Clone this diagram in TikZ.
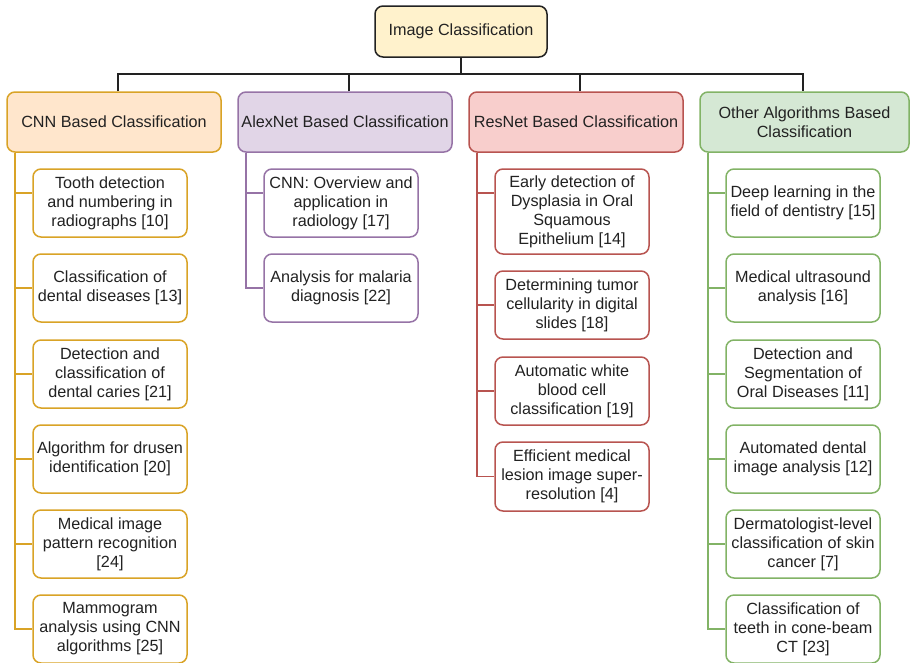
\documentclass[tikz,border=0pt]{standalone}
\usepackage{fontspec}
\setmainfont{Liberation Sans}
\definecolor{txt}{HTML}{222222}
\definecolor{rootfill}{HTML}{FFF2CC}
\definecolor{rootline}{HTML}{222222}
\definecolor{cnnfill}{HTML}{FFE6CC}
\definecolor{cnnline}{HTML}{D9A326}
\definecolor{alexfill}{HTML}{E1D5E7}
\definecolor{alexline}{HTML}{9673A6}
\definecolor{resfill}{HTML}{F8CECC}
\definecolor{resline}{HTML}{B85450}
\definecolor{othfill}{HTML}{D5E8D4}
\definecolor{othline}{HTML}{82B366}
\begin{document}
\begin{tikzpicture}[x=1pt,y=-1pt,
  font=\fontsize{16.2}{19}\selectfont,
  box/.style={draw, rounded corners=8pt, line width=1.5pt, align=center, inner sep=0pt, text=txt},
  lvlone/.style={box, minimum width=214pt, minimum height=60pt},
  leaf/.style={box, fill=white, minimum width=154pt, minimum height=68pt},
  conn/.style={line width=1.6pt, draw=rootline},
  branch/.style={line width=1.6pt}
]
\useasboundingbox (0,0) rectangle (910,662);

% root
\node[box, fill=rootfill, draw=rootline, minimum width=172pt, minimum height=51pt] (root) at (461,31.5) {Image Classification};

% level one
\node[lvlone, fill=cnnfill, draw=cnnline] (cnn) at (114,122) {CNN Based Classification};
\node[lvlone, fill=alexfill, draw=alexline] (alex) at (345,122) {AlexNet Based Classification};
\node[lvlone, fill=resfill, draw=resline] (res) at (576,122) {ResNet Based Classification};
\node[lvlone, fill=othfill, draw=othline, minimum width=209pt] (oth) at (804.5,122) {Other Algorithms Based\\Classification};

% bus
\coordinate (bus) at (0,74);
\draw[conn] (root.south) -- (root.south |- bus);
\draw[conn] ([xshift=4pt]cnn.north) -- ([xshift=4pt]cnn.north |- bus) -- ([xshift=-1.5pt]oth.north |- bus) -- ([xshift=-1.5pt]oth.north);
\draw[conn] ([xshift=4pt]alex.north) -- ([xshift=4pt]alex.north |- bus);
\draw[conn] ([xshift=4pt]res.north) -- ([xshift=4pt]res.north |- bus);

% CNN leaves
\node[leaf, draw=cnnline] (c1) at (110,203) {Tooth detection\\and numbering in\\radiographs [10]};
\node[leaf, draw=cnnline] (c2) at (110,288) {Classification of\\dental diseases [13]};
\node[leaf, draw=cnnline] (c3) at (110,374) {Detection and\\classification of\\dental caries [21]};
\node[leaf, draw=cnnline] (c4) at (110,459) {Algorithm for drusen\\identification [20]};
\node[leaf, draw=cnnline] (c5) at (110,544) {Medical image\\pattern recognition\\{[24]}};
\node[leaf, draw=cnnline] (c6) at (110,629) {Mammogram\\analysis using CNN\\algorithms [25]};

% AlexNet leaves
\node[leaf, draw=alexline] (a1) at (341,203) {CNN: Overview and\\application in\\radiology [17]};
\node[leaf, draw=alexline] (a2) at (341,288) {Analysis for malaria\\diagnosis [22]};

% ResNet leaves
\node[leaf, draw=resline, minimum height=85pt] (r1) at (572,211.5) {Early detection of\\Dysplasia in Oral\\Squamous\\Epithelium [14]};
\node[leaf, draw=resline] (r2) at (572,305) {Determining tumor\\cellularity in digital\\slides [18]};
\node[leaf, draw=resline] (r3) at (572,391) {Automatic white\\blood cell\\classification [19]};
\node[leaf, draw=resline, minimum height=69pt] (r4) at (572,476.5) {Efficient medical\\lesion image super-\\resolution [4]};

% Other leaves
\node[leaf, draw=othline] (o1) at (803,203) {Deep learning in the\\field of dentistry [15]};
\node[leaf, draw=othline] (o2) at (803,288) {Medical ultrasound\\analysis [16]};
\node[leaf, draw=othline] (o3) at (803,374) {Detection and\\Segmentation of\\Oral Diseases [11]};
\node[leaf, draw=othline] (o4) at (803,459) {Automated dental\\image analysis [12]};
\node[leaf, draw=othline] (o5) at (803,544) {Dermatologist-level\\classification of skin\\cancer [7]};
\node[leaf, draw=othline] (o6) at (803,629) {Classification of\\teeth in cone-beam\\CT [23]};

% trunks
\coordinate (cT) at ([xshift=9pt]cnn.south west);
\coordinate (aT) at ([xshift=9pt]alex.south west);
\coordinate (rT) at ([xshift=9pt]res.south west);
\coordinate (oT) at ([xshift=9pt]oth.south west);
\coordinate (first) at (0,193);

\draw[branch, cnnline] (cT) |- (c6.west);
\draw[branch, cnnline] (cT |- first) -- (c1.west |- first);
\foreach \n in {c2,c3,c4,c5} \draw[branch, cnnline] (cT |- \n.west) -- (\n.west);

\draw[branch, alexline] (aT) |- (a2.west);
\draw[branch, alexline] (aT |- first) -- (a1.west |- first);

\draw[branch, resline] (rT) |- (r4.west);
\draw[branch, resline] (rT |- first) -- (r1.west |- first);
\foreach \n in {r2,r3} \draw[branch, resline] (rT |- \n.west) -- (\n.west);

\draw[branch, othline] (oT) |- (o6.west);
\draw[branch, othline] (oT |- first) -- (o1.west |- first);
\foreach \n in {o2,o3,o4,o5} \draw[branch, othline] (oT |- \n.west) -- (\n.west);
\end{tikzpicture}
\end{document}
